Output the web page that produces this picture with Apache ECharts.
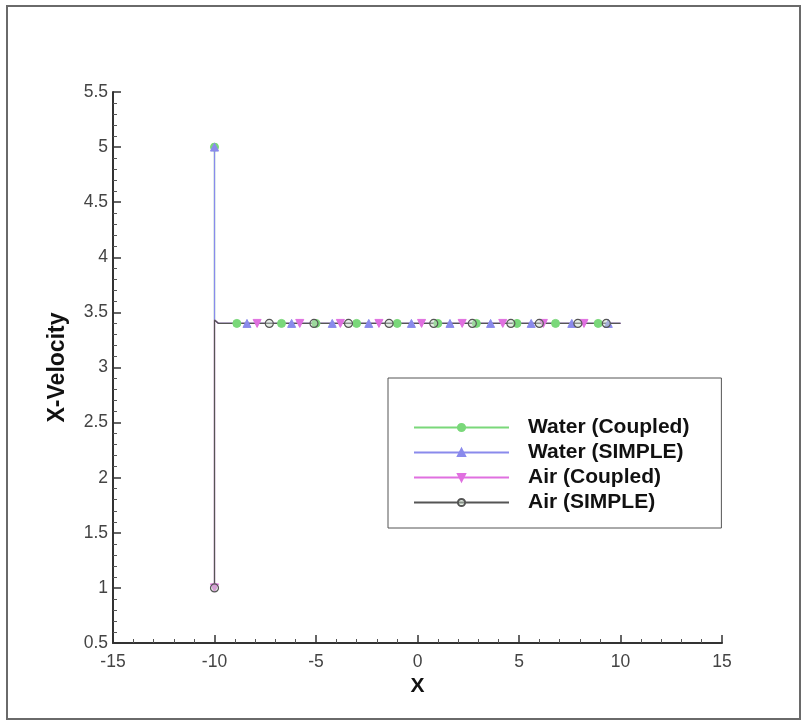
<!DOCTYPE html>
<html>
<head>
<meta charset="utf-8">
<script src="https://cdn.jsdelivr.net/npm/echarts@6/dist/echarts.min.js"></script>
<style>
  html, body { margin: 0; background: #fff; }
  #chart { width: 807px; height: 725px; }
</style>
</head>
<body>
<div id="chart"></div>
<script>
// series names, in legend order
var seriesNames = ['Water (Coupled)', 'Water (SIMPLE)', 'Air (Coupled)', 'Air (SIMPLE)']

// [x, x-velocity]; points 2-3 are the corner, last is the line end (no marker)
var waterCoupled = [[-10, 5], [-10, 3.43], [-9.8, 3.4], [-8.9, 3.4], [-6.7, 3.4], [-5.0, 3.4], [-3.0, 3.4], [-1.0, 3.4],
  [1.0, 3.4], [2.9, 3.4], [4.9, 3.4], [6.8, 3.4], [8.9, 3.4], [10, 3.4]]
var waterSimple = [[-10, 5], [-10, 3.43], [-9.8, 3.4], [-8.4, 3.4], [-6.2, 3.4], [-4.2, 3.4], [-2.4, 3.4], [-0.3, 3.4],
  [1.6, 3.4], [3.6, 3.4], [5.6, 3.4], [7.6, 3.4], [9.4, 3.4], [10, 3.4]]
var airCoupled = [[-10, 1], [-10, 3.43], [-9.8, 3.4], [-7.9, 3.4], [-5.8, 3.4], [-3.8, 3.4], [-1.9, 3.4], [0.2, 3.4],
  [2.2, 3.4], [4.2, 3.4], [6.2, 3.4], [8.2, 3.4], [10, 3.4]]
var airSimple = [[-10, 1], [-10, 3.43], [-9.8, 3.4], [-7.3, 3.4], [-5.1, 3.4], [-3.4, 3.4], [-1.4, 3.4], [0.8, 3.4],
  [2.7, 3.4], [4.6, 3.4], [6.0, 3.4], [7.9, 3.4], [9.3, 3.4], [10, 3.4]]

var xTicks = { min: -15, max: 15, step: 5 }
var yTicks = { min: 0.5, max: 5.5, step: 0.5 }

var FONT = 'Liberation Sans, Arial, sans-serif'

function toData(pts) {
  return pts.map(function(p, i) {
    if (i === 1 || i === 2 || i === pts.length - 1) return { value: p, symbol: 'none' }
    return p
  })
}

function makeSeries(name, pts, color, symbol, opts) {
  var s = {
    name: name,
    type: 'line',
    data: toData(pts),
    symbol: symbol,
    symbolSize: 8,
    lineStyle: { color: color, width: 1.3 },
    itemStyle: { color: color, borderColor: color, borderWidth: 1 },
    z: 2,
    animation: false
  }
  if (opts) Object.keys(opts).forEach(function(k) { s[k] = opts[k] })
  return s
}

function axisCommon(t, name, nameGap, labelMargin, nameSize) {
  return {
    type: 'value',
    min: t.min,
    max: t.max,
    interval: t.step,
    name: name,
    nameLocation: 'middle',
    nameGap: nameGap,
    nameTextStyle: { fontFamily: FONT, fontSize: nameSize, fontWeight: 'bold', color: '#111' },
    axisLine: { onZero: false, lineStyle: { color: '#333', width: 2 } },
    axisTick: { inside: true, length: 8, lineStyle: { color: '#333', width: 1.5 } },
    minorTick: { show: true, splitNumber: 5, length: 4, lineStyle: { color: '#555', width: 1 } },
    splitLine: { show: false },
    axisLabel: { fontFamily: FONT, fontSize: 17.5, color: '#444', margin: labelMargin }
  }
}

var chart = echarts.init(document.getElementById('chart'))
chart.setOption({
  backgroundColor: '#fff',
  graphic: [{
    type: 'rect',
    shape: { x: 7, y: 6, width: 793, height: 713 },
    style: { fill: 'none', stroke: '#6a6a6a', lineWidth: 2 },
    silent: true
  }],
  grid: { left: 113, right: 85, top: 92, bottom: 82 },
  legend: {
    orient: 'vertical',
    left: 388,
    top: 378,
    padding: [39, 32, 15, 25],
    itemGap: 4,
    itemWidth: 95,
    itemHeight: 9,
    borderColor: '#555',
    borderWidth: 1,
    backgroundColor: '#fff',
    textStyle: {
      fontFamily: FONT,
      fontSize: 21,
      fontWeight: 'bold',
      color: '#111',
      padding: [0, 0, 0, 14]
    },
    data: seriesNames
  },
  xAxis: axisCommon(xTicks, 'X', 30, 10, 21),
  yAxis: axisCommon(yTicks, 'X-Velocity', 44, 5, 23),
  series: [
    makeSeries(seriesNames[0], waterCoupled, '#7ad87a', 'circle'),
    makeSeries(seriesNames[1], waterSimple, '#8a8aec', 'triangle'),
    makeSeries(seriesNames[2], airCoupled, '#e070e0', 'triangle', { symbolRotate: 180 }),
    makeSeries(seriesNames[3], airSimple, '#555555', 'circle', {
      itemStyle: { color: 'rgba(200,220,200,0.45)', borderColor: '#555555', borderWidth: 1.2 }
    })
  ]
})
</script>
</body>
</html>
